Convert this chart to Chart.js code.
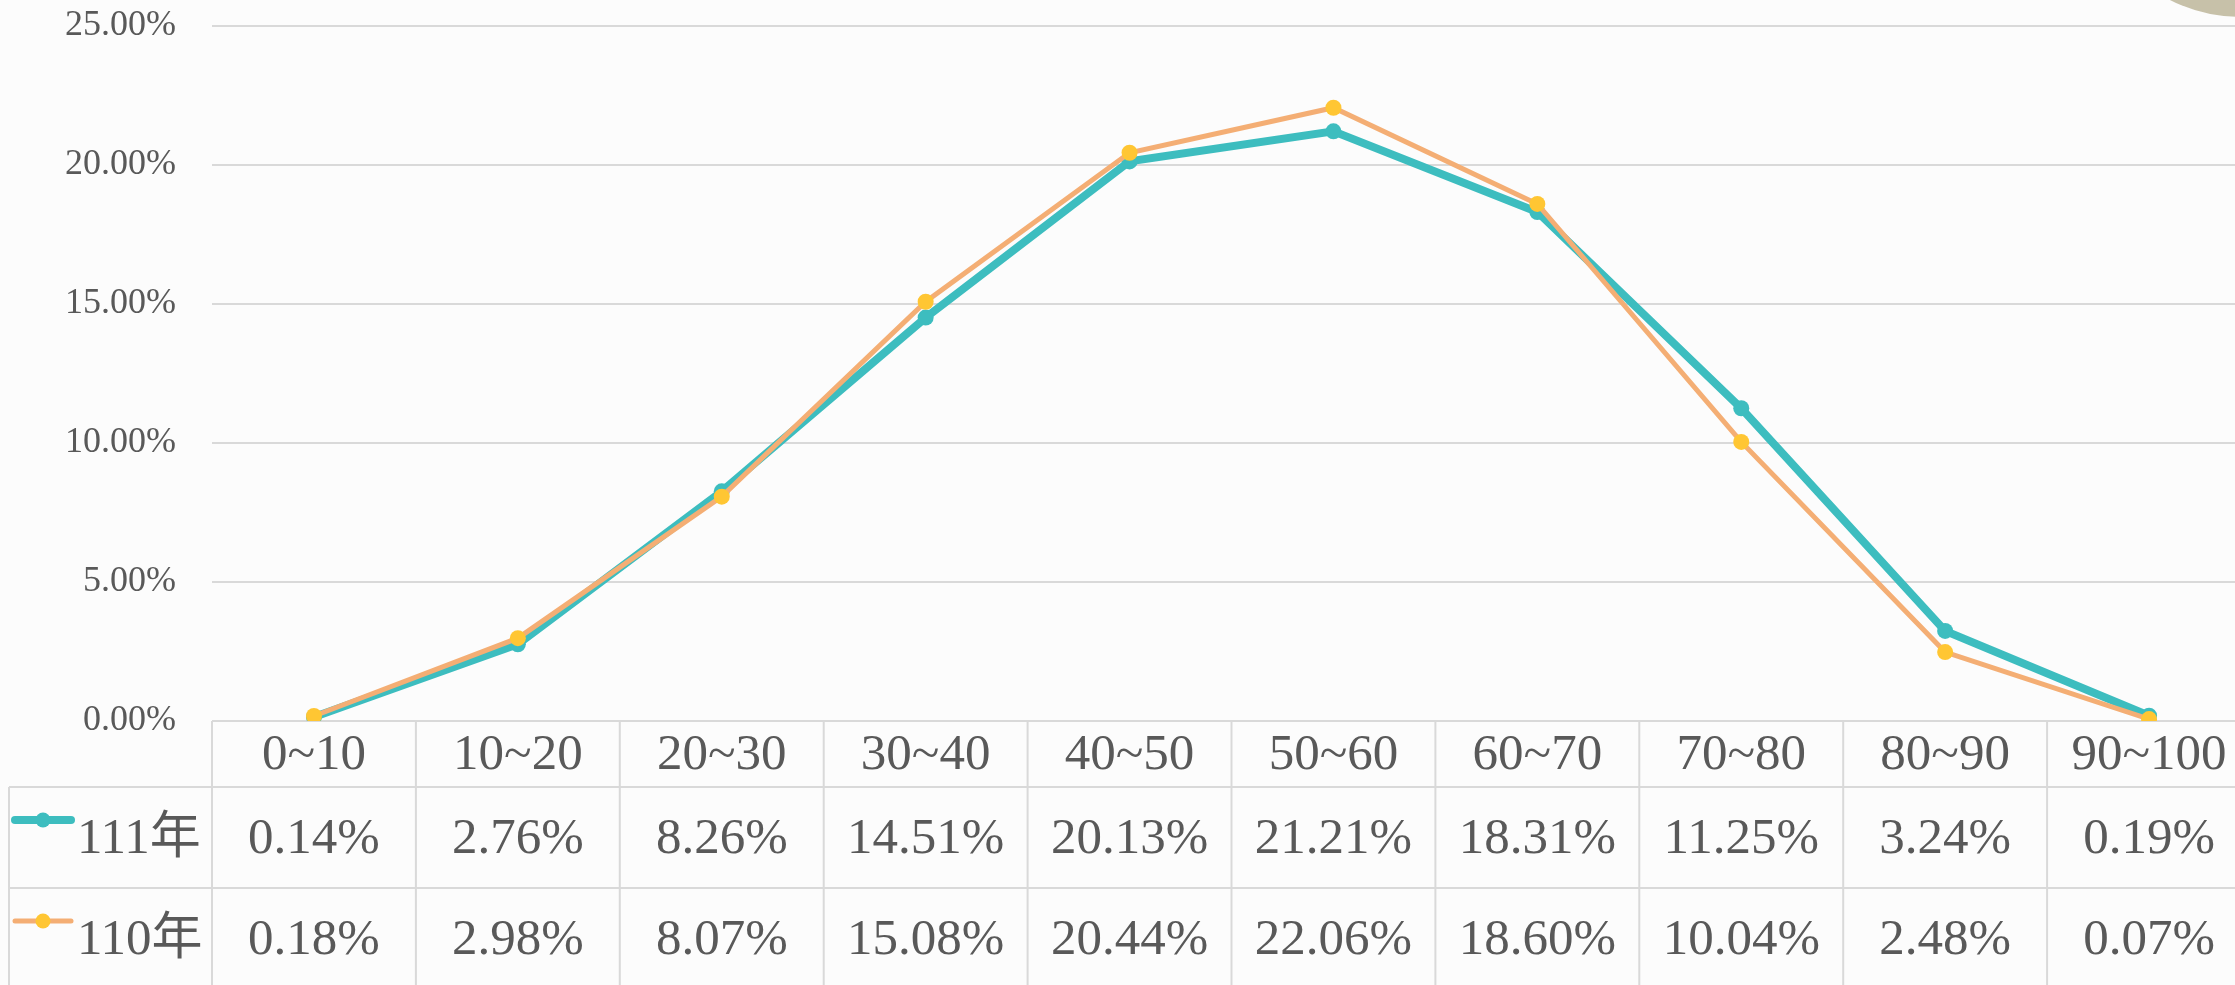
<!DOCTYPE html>
<html>
<head>
<meta charset="utf-8">
<script src="https://cdn.jsdelivr.net/npm/chart.js@4/dist/chart.umd.min.js"></script>
<style>
  html, body { margin: 0; padding: 0; background: #fcfcfc; overflow: hidden; width: 2235px; height: 985px; }
  #deco { position: absolute; left: 2087px; top: -289px; width: 306px; height: 306px; border-radius: 50%; background: #c7c1a9; z-index: 0; }
  #c { position: absolute; left: 0; top: 0; z-index: 1; }
</style>
</head>
<body>
<div id="deco"></div>
<canvas id="c" width="2251" height="985"></canvas>
<script>
// ---- data ----
const categories = ['0~10', '10~20', '20~30', '30~40', '40~50', '50~60', '60~70', '70~80', '80~90', '90~100'];
const seriesNames = ['111年', '110年'];
const values111 = [0.14, 2.76, 8.26, 14.51, 20.13, 21.21, 18.31, 11.25, 3.24, 0.19];
const values110 = [0.18, 2.98, 8.07, 15.08, 20.44, 22.06, 18.60, 10.04, 2.48, 0.07];
const yTicks = [0, 5, 10, 15, 20, 25];

// ---- styles ----
const TEAL = '#3dbdbf';
const ORANGE = '#f4ae74';
const YELLOW = '#ffc633';
const TEXT = '#595959';
const GRID = '#d9d9d9';
const SERIF = '"Liberation Serif", "Times New Roman", "Noto Sans CJK TC", serif';

const fmt = v => v.toFixed(2) + '%';

const tablePlugin = {
  id: 'dataTable',
  beforeDatasetsDraw(chart) {
    const { ctx, chartArea, scales: { x } } = chart;
    const n = categories.length;
    const colW = (chartArea.right - chartArea.left) / n;
    const top = chartArea.bottom;
    const headerH = 66, rowH = 101;
    const labelLeft = 9;
    const tableLeft = chartArea.left;
    const rows = [
      { name: seriesNames[0], vals: values111, color: TEAL, marker: TEAL, lw: 8 },
      { name: seriesNames[1], vals: values110, color: ORANGE, marker: YELLOW, lw: 5 }
    ];
    const bottom = top + headerH + rowH * rows.length;
    ctx.save();
    ctx.strokeStyle = GRID;
    ctx.lineWidth = 2;
    ctx.beginPath();
    ctx.moveTo(tableLeft, top); ctx.lineTo(chartArea.right + 5, top);
    for (let r = 0; r <= rows.length; r++) {
      const y = top + headerH + r * rowH;
      ctx.moveTo(labelLeft, y); ctx.lineTo(chartArea.right + 5, y);
    }
    ctx.moveTo(labelLeft, top + headerH); ctx.lineTo(labelLeft, bottom);
    for (let i = 0; i <= n; i++) {
      const xx = tableLeft + i * colW;
      ctx.moveTo(xx, top); ctx.lineTo(xx, bottom);
    }
    ctx.stroke();

    ctx.fillStyle = TEXT;
    ctx.font = '51px ' + SERIF;
    ctx.textAlign = 'center';
    ctx.textBaseline = 'middle';
    categories.forEach((c, i) => {
      ctx.fillText(c, x.getPixelForValue(i), top + headerH / 2 + 2);
    });
    rows.forEach((row, r) => {
      const rt = top + headerH + r * rowH;
      const cy = rt + rowH / 2;
      row.vals.forEach((v, i) => {
        ctx.fillText(fmt(v), x.getPixelForValue(i), cy + 2);
      });
      const ky = rt + 33;
      ctx.strokeStyle = row.color;
      ctx.lineWidth = row.lw;
      ctx.lineCap = 'round';
      ctx.beginPath();
      ctx.moveTo(15, ky); ctx.lineTo(71, ky);
      ctx.stroke();
      ctx.fillStyle = row.marker;
      ctx.beginPath();
      ctx.arc(43, ky, 7.5, 0, Math.PI * 2);
      ctx.fill();
      ctx.fillStyle = TEXT;
      ctx.textAlign = 'left';
      ctx.fillText(row.name, 77, cy + 2);
      ctx.textAlign = 'center';
    });
    ctx.restore();
  }
};

new Chart(document.getElementById('c'), {
  type: 'line',
  data: {
    labels: categories,
    datasets: [
      {
        label: seriesNames[0],
        data: values111,
        borderColor: TEAL,
        backgroundColor: TEAL,
        borderWidth: 8,
        pointRadius: 8,
        pointBorderWidth: 0,
        pointBackgroundColor: TEAL,
        tension: 0,
        order: 1
      },
      {
        label: seriesNames[1],
        data: values110,
        borderColor: ORANGE,
        backgroundColor: YELLOW,
        borderWidth: 5,
        pointRadius: 8,
        pointBorderWidth: 0,
        pointBackgroundColor: YELLOW,
        tension: 0,
        order: 0
      }
    ]
  },
  options: {
    responsive: false,
    devicePixelRatio: 1,
    animation: false,
    layout: { autoPadding: false, padding: { top: 26, bottom: 264, left: 0, right: 0 } },
    plugins: { legend: { display: false }, tooltip: { enabled: false } },
    scales: {
      x: {
        display: false,
        offset: true
      },
      y: {
        min: 0,
        max: 25,
        afterBuildTicks: s => { s.ticks = yTicks.map(v => ({ value: v })); },
        afterFit: s => { s.width = 212; s.paddingTop = 0; s.paddingBottom = 0; },
        border: { display: false },
        grid: { color: GRID, lineWidth: 2, drawTicks: false },
        ticks: {
          padding: 36,
          color: TEXT,
          font: { family: SERIF, size: 36 },
          callback: v => fmt(v)
        }
      }
    }
  },
  plugins: [tablePlugin]
});
</script>
</body>
</html>
